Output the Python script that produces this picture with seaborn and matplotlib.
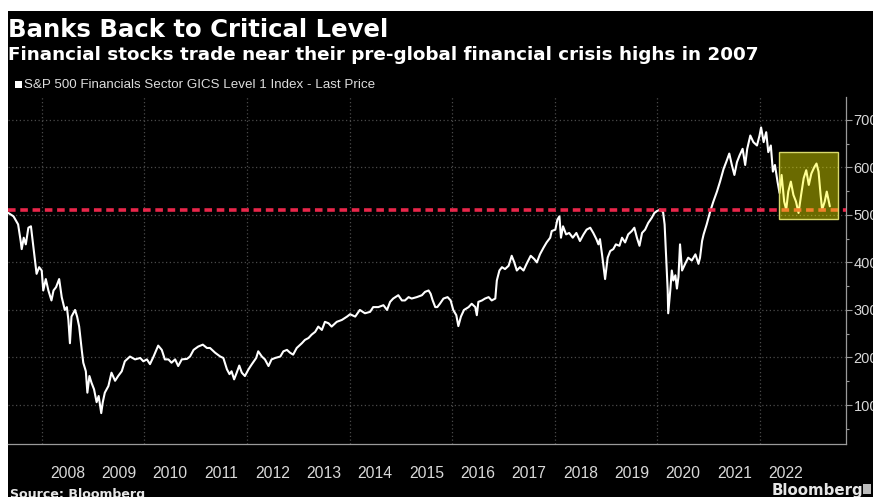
import numpy as np
import pandas as pd
import matplotlib
matplotlib.use("Agg")
import matplotlib.pyplot as plt
from matplotlib.patches import Rectangle
import seaborn as sns

# ---------------- data (decimal year, index level) ----------------
crisis_dates = [2007.35, 2007.45, 2007.54, 2007.59, 2007.61, 2007.65, 2007.69, 2007.74, 2007.79, 2007.84,
                2007.87, 2007.90, 2007.95, 2008.00, 2008.03, 2008.08, 2008.13, 2008.19, 2008.23, 2008.28,
                2008.34, 2008.39, 2008.45, 2008.49, 2008.52, 2008.55, 2008.58, 2008.65, 2008.69, 2008.73,
                2008.78, 2008.81, 2008.86, 2008.89, 2008.93, 2008.97, 2009.02, 2009.07, 2009.11, 2009.16,
                2009.19, 2009.23, 2009.30, 2009.36, 2009.43, 2009.49, 2009.56, 2009.62, 2009.72, 2009.82,
                2009.92, 2009.98]
crisis_values = [504, 497, 480, 445, 428, 452, 438, 473, 476, 431,
                 404, 376, 390, 383, 341, 365, 341, 320, 341, 348,
                 365, 327, 300, 306, 279, 230, 286, 300, 286, 265,
                 216, 189, 171, 126, 161, 147, 133, 106, 119, 83,
                 106, 126, 140, 168, 151, 161, 171, 192, 202, 196,
                 199, 192]

recovery_dates = [2010.05, 2010.11, 2010.18, 2010.27, 2010.34, 2010.40, 2010.47, 2010.53, 2010.60, 2010.66,
                  2010.73, 2010.83, 2010.89, 2010.96, 2011.05, 2011.14, 2011.22, 2011.28, 2011.38, 2011.48,
                  2011.54, 2011.61, 2011.66, 2011.70, 2011.75, 2011.80, 2011.85, 2011.90, 2011.96, 2012.03,
                  2012.09, 2012.18, 2012.22, 2012.29, 2012.35, 2012.42, 2012.48, 2012.55, 2012.65, 2012.71,
                  2012.78, 2012.84, 2012.90, 2012.97, 2013.07, 2013.13, 2013.20, 2013.26, 2013.33, 2013.39,
                  2013.46, 2013.52, 2013.59, 2013.65, 2013.75, 2013.85, 2013.95]
recovery_values = [196, 186, 202, 225, 216, 196, 196, 189, 196, 182,
                   196, 197, 202, 216, 223, 227, 220, 220, 210, 202,
                   199, 175, 165, 171, 154, 168, 183, 168, 161, 175,
                   185, 199, 213, 202, 196, 182, 196, 199, 202, 213,
                   216, 210, 206, 220, 230, 237, 241, 248, 254, 265,
                   258, 275, 272, 265, 275, 279, 286]

growth_dates = [2014.01, 2014.11, 2014.20, 2014.30, 2014.40, 2014.46, 2014.56, 2014.66, 2014.73, 2014.79,
                2014.85, 2014.95, 2015.02, 2015.08, 2015.15, 2015.21, 2015.31, 2015.41, 2015.47, 2015.54,
                2015.58, 2015.62, 2015.67, 2015.71, 2015.76, 2015.83, 2015.91, 2015.97, 2016.02, 2016.08,
                2016.12, 2016.17, 2016.23, 2016.32, 2016.38, 2016.45, 2016.48, 2016.51, 2016.58, 2016.64,
                2016.71, 2016.77, 2016.84, 2016.87, 2016.92, 2016.97, 2017.03, 2017.10, 2017.16, 2017.21,
                2017.26, 2017.32, 2017.39, 2017.45, 2017.53, 2017.60, 2017.65, 2017.71, 2017.78, 2017.84,
                2017.91, 2017.94]
growth_values = [291, 286, 300, 293, 296, 306, 306, 310, 300, 317,
                 324, 331, 320, 320, 327, 324, 327, 331, 338, 341,
                 334, 320, 306, 306, 313, 324, 327, 320, 300, 289,
                 266, 286, 300, 306, 313, 306, 289, 317, 320, 324,
                 327, 320, 324, 362, 383, 390, 386, 393, 414, 400,
                 383, 390, 383, 397, 414, 407, 400, 417, 431, 442,
                 452, 466]

late_dates = [2018.01, 2018.05, 2018.09, 2018.12, 2018.16, 2018.22, 2018.28, 2018.35, 2018.42, 2018.49,
              2018.56, 2018.62, 2018.69, 2018.75, 2018.81, 2018.85, 2018.88, 2018.92, 2018.96, 2018.98,
              2019.03, 2019.08, 2019.14, 2019.19, 2019.26, 2019.31, 2019.37, 2019.43, 2019.50, 2019.55,
              2019.60, 2019.65, 2019.70, 2019.76, 2019.82, 2019.89, 2019.94, 2019.99]
late_values = [469, 490, 497, 452, 476, 459, 462, 452, 462, 445,
               459, 469, 473, 462, 449, 438, 449, 417, 383, 365,
               410, 424, 428, 438, 435, 452, 442, 459, 466, 473,
               452, 435, 462, 469, 483, 494, 504, 508]

covid_dates = [2020.05, 2020.11, 2020.14, 2020.17, 2020.20, 2020.21, 2020.25, 2020.28, 2020.31, 2020.35,
               2020.38, 2020.41, 2020.44, 2020.48, 2020.54, 2020.60, 2020.67, 2020.74, 2020.80, 2020.83,
               2020.87, 2020.90, 2020.96, 2021.03, 2021.09, 2021.16, 2021.22, 2021.29, 2021.34, 2021.40,
               2021.45, 2021.50, 2021.55, 2021.60, 2021.66, 2021.71, 2021.75, 2021.81, 2021.87, 2021.94,
               2021.99]
covid_values = [511, 506, 480, 410, 341, 293, 341, 383, 362, 373,
                345, 370, 438, 383, 397, 410, 404, 417, 397, 410,
                445, 459, 480, 508, 528, 549, 570, 597, 611, 629,
                605, 584, 611, 625, 639, 605, 639, 667, 653, 646,
                667]

recent_dates = [2022.02, 2022.07, 2022.12, 2022.16, 2022.21, 2022.25, 2022.29, 2022.34, 2022.38, 2022.42,
                2022.47, 2022.51, 2022.55, 2022.60, 2022.65, 2022.70, 2022.75, 2022.80, 2022.85, 2022.90,
                2022.95, 2023.00, 2023.06, 2023.10, 2023.14, 2023.18, 2023.21, 2023.26, 2023.30, 2023.34,
                2023.36]
recent_values = [684, 653, 674, 632, 646, 591, 605, 570, 546, 584,
                 528, 511, 549, 570, 542, 528, 504, 542, 577, 594,
                 563, 587, 601, 608, 591, 542, 511, 528, 549, 528,
                 518]

precrisis_high = 510
highlight_x = [2022.375, 2023.525]
highlight_y = [491, 633]
year_labels = [str(y) for y in range(2008, 2023)]
y_ticks = [100, 200, 300, 400, 500, 600, 700]

TITLE = "Banks Back to Critical Level"
SUBTITLE = "Financial stocks trade near their pre-global financial crisis highs in 2007"
LEGEND = "S&P 500 Financials Sector GICS Level 1 Index - Last Price"

df = pd.DataFrame({
    "date": crisis_dates + recovery_dates + growth_dates + late_dates + covid_dates + recent_dates,
    "value": crisis_values + recovery_values + growth_values + late_values + covid_values + recent_values,
})

# ---------------- figure ----------------
sns.set_theme(style="dark")
plt.rcParams["font.family"] = ["DejaVu Sans"]

W, H = 873, 497
fig = plt.figure(figsize=(W / 100, H / 100), dpi=100, facecolor="white")

def fx(px):
    return px / W

def fy(py):
    return 1 - py / H

# black canvas (white strip on top and left like the reference)
fig.add_artist(Rectangle((fx(8), 0), 1 - fx(8), fy(11), transform=fig.transFigure,
                         facecolor="black", edgecolor="none", zorder=-10))

ax = fig.add_axes([fx(8), fy(444), fx(846) - fx(8), fy(97) - fy(444)])
ax.set_facecolor("black")

sns.lineplot(data=df, x="date", y="value", ax=ax, color="white", linewidth=1.5, zorder=3)

ax.set_xlim(2007.343, 2023.675)
ax.set_ylim(18, 748)

# red pre-crisis line
ax.axhline(precrisis_high, color="#e8264a", linewidth=2.6, dashes=(2.1, 1.3), zorder=4)

# highlight box
ax.add_patch(Rectangle((highlight_x[0], highlight_y[0]), highlight_x[1] - highlight_x[0],
                       highlight_y[1] - highlight_y[0], facecolor=(1, 1, 0, 0.42),
                       edgecolor=(0.85, 0.85, 0.42, 1), linewidth=1.0, zorder=5))

# grids
ax.set_yticks(y_ticks)
ax.set_yticks(np.arange(50, 750, 50), minor=True)
ax.yaxis.grid(True, which="major", color="#4a4a4a", linestyle=(0, (1, 2)), linewidth=0.9)
for yr in range(2008, 2023, 2):
    ax.axvline(yr, color="#4a4a4a", linestyle=(0, (1, 2)), linewidth=0.9, zorder=1)

# y axis on right
ax.yaxis.tick_right()
ax.yaxis.set_label_position("right")
ax.tick_params(axis="y", which="major", direction="out", length=4, width=0.8, color="#9a9a9a",
               labelcolor="#d8d8d8", labelsize=10.5, pad=1.5)
ax.tick_params(axis="y", which="minor", direction="out", length=2.5, width=0.8, color="#9a9a9a")
ax.set_yticklabels([str(v) for v in y_ticks], family="Liberation Sans")

# x axis: dividers at year boundaries, labels mid-year
ax.set_xticks(np.arange(2008, 2024))
ax.set_xticklabels([])
ax.set_xticks(np.arange(2008.5, 2023.0, 1.0), minor=True)
ax.set_xticklabels(year_labels, minor=True, family="Liberation Sans")
ax.tick_params(axis="x", which="major", direction="out", length=26, width=0.8, color="#8a8a8a")
ax.tick_params(axis="x", which="minor", length=0, labelcolor="#d8d8d8", labelsize=11.3, pad=16)
ax.xaxis.grid(False)

ax.set_xlabel("")
ax.set_ylabel("")
for s in ["left", "top"]:
    ax.spines[s].set_visible(False)
for s in ["right", "bottom"]:
    ax.spines[s].set_visible(True)
    ax.spines[s].set_color("#9a9a9a")
    ax.spines[s].set_linewidth(0.9)

# texts
fig.text(fx(8), fy(37), TITLE, color="white", fontsize=17.6, fontweight="bold", va="baseline")
fig.text(fx(8), fy(60), SUBTITLE, color="white", fontsize=13.2, fontweight="bold", va="baseline")
fig.add_artist(Rectangle((fx(15), fy(88)), fx(7), 7 / H, transform=fig.transFigure,
                         facecolor="white", edgecolor="none"))
fig.text(fx(24), fy(88), LEGEND, color="#dddddd", fontsize=9.6, va="baseline", family="Liberation Sans")
fig.text(fx(10), fy(498), "Source: Bloomberg", color="#e6e6e6", fontsize=9.1, fontweight="bold",
         va="baseline")
fig.text(fx(772), fy(495), "Bloomberg", color="#e6e6e6", fontsize=10.8, fontweight="bold", va="baseline")
fig.add_artist(Rectangle((fx(863), fy(494)), fx(8), 10 / H, transform=fig.transFigure,
                         facecolor="#bbbbbb", edgecolor="none"))

fig.savefig("out.png", dpi=100, facecolor=fig.get_facecolor())
